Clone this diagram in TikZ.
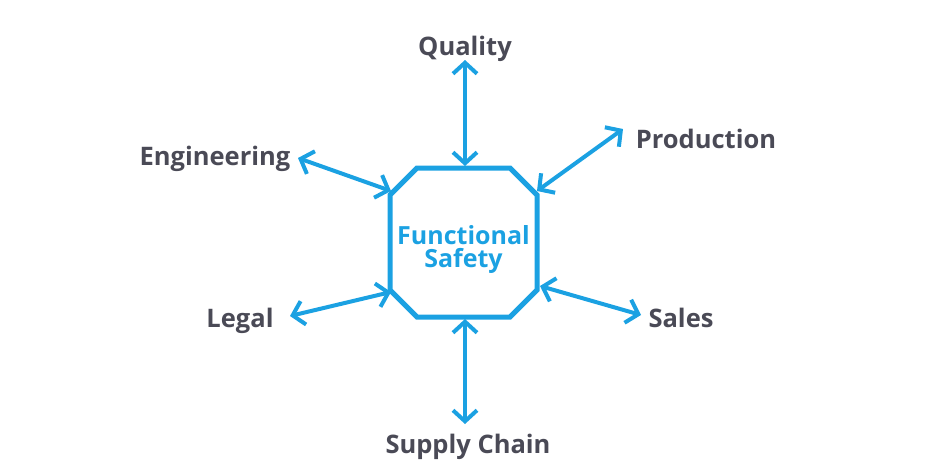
\documentclass[tikz,border=0pt]{standalone}
\usepackage{fontspec}
\setmainfont{Open Sans}
\usetikzlibrary{arrows.meta,positioning}
\definecolor{fsblue}{HTML}{1BA1E2}
\definecolor{labelgray}{HTML}{4A4A56}
\tikzset
{
    dept/.style = {text=labelgray, anchor=base, inner sep=0pt, font=\bfseries\fontsize{25.5}{28}\selectfont},
    core/.style = {text=fsblue, align=center, inner sep=0pt, font=\bfseries\fontsize{25}{23.5}\selectfont},
    link/.style = {draw=fsblue, line width=4pt, arrows={Straight Barb[length=11pt,width=24pt]-Straight Barb[length=11pt,width=24pt]}}
}
\newcommand\XC{463.5}
\newcommand\YC{242.5}

\begin{document}
\begin{tikzpicture}[x=1pt, y=-1pt]
\useasboundingbox (0,0) rectangle (937,466);
\node (fs)	[core] 	at (\XC,\YC+7) 	{Functional\\Safety};
\node (q)		[dept] 	at (465,55) 		{Quality};
\node (eng)	[dept] 	at (215,165) 		{Engineering};
\node (prod)	[dept] 	at (706,148) 		{Production};
\node (leg)	[dept] 	at (240,327) 		{Legal};
\node (sal)	[dept] 	at (681,327) 		{Sales};
\node (sc)	[dept] 	at (468,453) 		{Supply Chain};

% octagon
\draw[fsblue, line width=5pt, line join=miter]
	(\XC-46.5,\YC-74.5) -- (\XC+46.5,\YC-74.5) -- (\XC+73.5,\YC-47.5) -- (\XC+73.5,\YC+47.5)
	-- (\XC+46.5,\YC+74.5) -- (\XC-46.5,\YC+74.5) -- (\XC-73.5,\YC+47.5) -- (\XC-73.5,\YC-47.5) -- cycle;

\coordinate (qa) at (465,60);		\coordinate (qb) at (465,166);
\coordinate (ea) at (298,158);	\coordinate (eb) at (391,191);
\coordinate (pa) at (623,129);	\coordinate (pb) at (537,191);
\coordinate (la) at (290,316);	\coordinate (lb) at (391,292);
\coordinate (sa) at (641,315);	\coordinate (sb) at (540,286);
\coordinate (ca) at (465,424);	\coordinate (cb) at (465,319);

\path
(qa) 	edge[link] 	(qb)
(ea) 	edge[link] 	(eb)
(pa) 	edge[link] 	(pb)
(la) 	edge[link] 	(lb)
(sa) 	edge[link] 	(sb)
(ca) 	edge[link] 	(cb);
\end{tikzpicture}
\end{document}
